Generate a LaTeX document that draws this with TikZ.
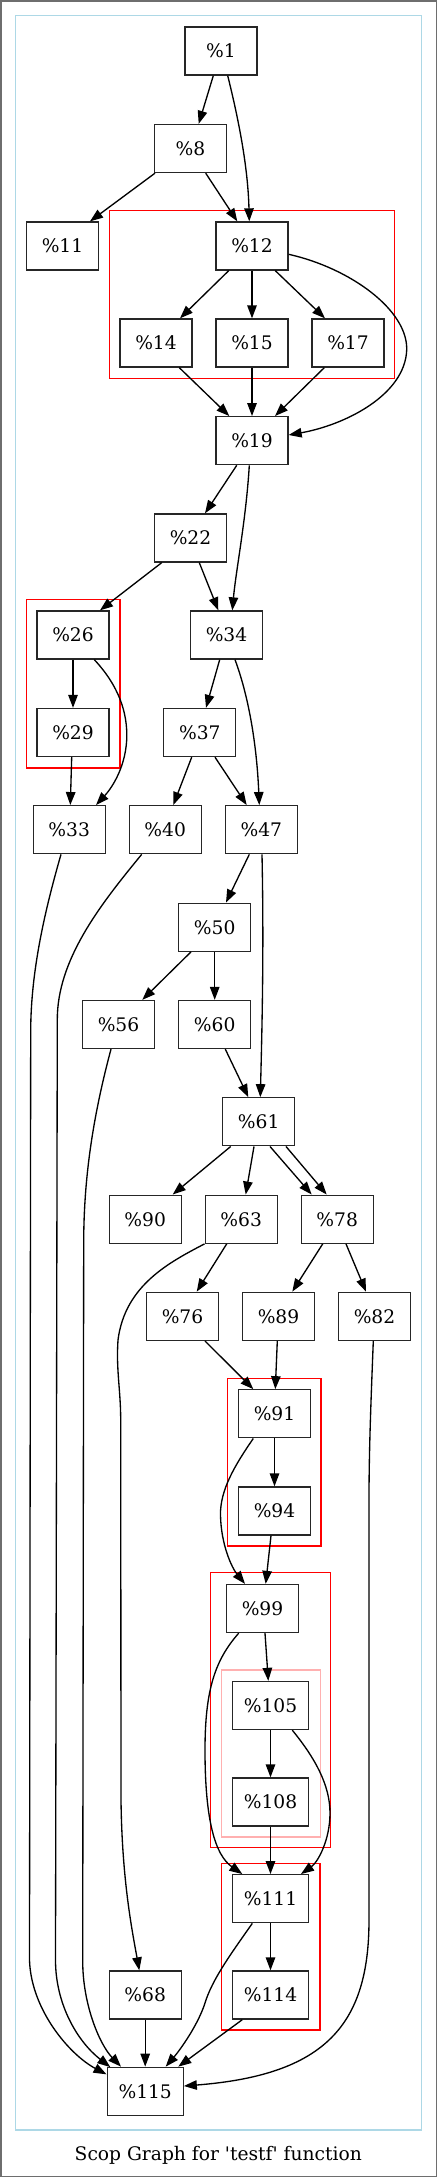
\documentclass[tikz,border=0pt]{standalone}
\usepackage{fontspec}
\setmainfont{DejaVu Serif}
\newfontfamily\plainserif{DejaVu Serif}
\usetikzlibrary{arrows.meta,calc}
\definecolor{clblue}{RGB}{173,216,230}
\definecolor{clpink}{RGB}{255,176,176}
\definecolor{frame}{RGB}{110,110,110}
\tikzset{
  bb/.style={draw=black!85, line width=1.33pt, minimum width=72pt, minimum height=48pt, inner sep=0pt, font=\fontsize{18.67}{22}\selectfont},
  bbw/.style={bb, minimum width=76pt},
  edge/.style={draw=black, line width=1.33pt, -{Triangle[length=13pt,width=9.5pt]}},
  redcl/.style={draw=red, line width=1.33pt},
  pinkcl/.style={draw=clpink, line width=1.33pt},
  bluecl/.style={draw=clblue, line width=1.33pt},
}
\begin{document}
\begin{tikzpicture}[x=1pt,y=-1pt]
\useasboundingbox (0,0) rectangle (437,2177);
\draw[frame, line width=1.5pt] (0.75,0.75) rectangle (436.25,2176.25);
% clusters
\draw[bluecl] (15.7,15.7) rectangle (421.7,2130);
\draw[redcl] (109.3,210.7) rectangle (394.7,378.7);
\draw[redcl] (26.3,599.7) rectangle (120,768);
\draw[redcl] (227.7,1378.3) rectangle (321,1546);
\draw[redcl] (210.3,1572.7) rectangle (330.7,1847.7);
\draw[pinkcl] (221.3,1670) rectangle (320.3,1837);
\draw[redcl] (221.3,1863.3) rectangle (320,2030);
% nodes
\node[bb] (n1) at (221,51) {\%1};
\node[bb] (n8) at (190.5,148.5) {\%8};
\node[bb] (n11) at (62.5,246) {\%11};
\node[bb] (n12) at (252,246) {\%12};
\node[bb] (n14) at (156,343) {\%14};
\node[bb] (n15) at (252,343) {\%15};
\node[bb] (n17) at (348,343) {\%17};
\node[bb] (n19) at (252,440.7) {\%19};
\node[bb] (n22) at (190.5,538) {\%22};
\node[bb] (n26) at (73,635) {\%26};
\node[bb] (n34) at (226.5,635) {\%34};
\node[bb] (n29) at (73,732.5) {\%29};
\node[bb] (n37) at (199.8,732.5) {\%37};
\node[bb] (n33) at (69.2,829.7) {\%33};
\node[bb] (n40) at (165.2,829.7) {\%40};
\node[bb] (n47) at (261.3,829.7) {\%47};
\node[bb] (n50) at (214.7,927.2) {\%50};
\node[bb] (n56) at (118.5,1024.5) {\%56};
\node[bb] (n60) at (214.7,1024.5) {\%60};
\node[bb] (n61) at (258.7,1121.8) {\%61};
\node[bb] (n90) at (145.2,1219.2) {\%90};
\node[bb] (n63) at (241.2,1219.2) {\%63};
\node[bb] (n78) at (337.2,1219.2) {\%78};
\node[bb] (n76) at (182.5,1316.3) {\%76};
\node[bb] (n89) at (278.5,1316.3) {\%89};
\node[bb] (n82) at (374.5,1316.3) {\%82};
\node[bb] (n91) at (274.5,1413.8) {\%91};
\node[bb] (n94) at (274.5,1511) {\%94};
\node[bb] (n99) at (262.5,1608.5) {\%99};
\node[bbw] (n105) at (270.5,1705.5) {\%105};
\node[bbw] (n108) at (270.5,1802) {\%108};
\node[bbw] (n111) at (270.5,1898.7) {\%111};
\node[bbw] (n114) at (270.5,1995) {\%114};
\node[bb] (n68) at (145.2,1995) {\%68};
\node[bbw] (n115) at (145.2,2091.3) {\%115};
\node[inner sep=0pt, font=\plainserif\fontsize{18.67}{22}\selectfont] (title) at (218.3,2155) {Scop Graph for 'testf' function};
% edges
\draw[edge] ($(n1.south)+(-7.7,0)$) -- ($(n8.north)+(8.2,0)$);
\draw[edge] ($(n1.south)+(6.7,0)$) .. controls (240,125) and (248,170) .. ($(n12.north)+(-2.7,0)$);
\draw[edge] ($(n8.south)+(-35.5,0)$) -- ($(n11.north)+(27.5,0)$);
\draw[edge] ($(n8.south)+(15.2,0)$) -- ($(n12.north)+(-14.7,0)$);
\draw[edge] ($(n12.south)+(-23.3,0)$) -- ($(n14.north)+(24,0)$);
\draw[edge] (n12.south) -- (n15.north);
\draw[edge] ($(n12.south)+(23.3,0)$) -- ($(n17.north)+(-23,0)$);
\draw[edge] ($(n12.east)+(0,8.3)$) .. controls (350,268) and (408,310) .. (406.7,350) .. controls (405,395) and (345,425) .. ($(n19.east)+(0,-5.7)$);
\draw[edge] ($(n14.south)+(23.3,0)$) -- ($(n19.north)+(-22.7,0)$);
\draw[edge] (n15.south) -- (n19.north);
\draw[edge] ($(n17.south)+(-23.7,0)$) -- ($(n19.north)+(23,0)$);
\draw[edge] ($(n19.south)+(-15.3,0)$) -- ($(n22.north)+(14.5,0)$);
\draw[edge] ($(n19.south)+(-2.7,0)$) .. controls (246,520) and (236,570) .. ($(n34.north)+(5.8,0)$);
\draw[edge] ($(n22.south)+(-28.8,0)$) -- ($(n26.north)+(27,0)$);
\draw[edge] ($(n22.south)+(8.8,0)$) -- ($(n34.north)+(-8.2,0)$);
\draw[edge] (n26.south) -- (n29.north);
\draw[edge] ($(n26.south)+(21.3,0)$) .. controls (118,685) and (128,712) .. (126.7,740) .. controls (125,770) and (110,790) .. ($(n33.north)+(26.8,0)$);
\draw[edge] ($(n29.south)+(-1.3,0)$) -- ($(n33.north)+(1.1,0)$);
\draw[edge] ($(n34.south)+(-6.8,0)$) -- ($(n37.north)+(6.2,0)$);
\draw[edge] ($(n34.south)+(8.5,0)$) .. controls (250,700) and (257,750) .. ($(n47.north)+(-2,0)$);
\draw[edge] ($(n37.south)+(-8.1,0)$) -- ($(n40.north)+(8.1,0)$);
\draw[edge] ($(n37.south)+(15.2,0)$) -- ($(n47.north)+(-14.6,0)$);
\draw[edge] ($(n47.south)+(-12,0)$) -- ($(n50.north)+(11.3,0)$);
\draw[edge] ($(n47.south)+(0.7,0)$) .. controls (264,950) and (262,1030) .. ($(n61.north)+(1.6,0)$);
\draw[edge] ($(n50.south)+(-23.7,0)$) -- ($(n56.north)+(23.8,0)$);
\draw[edge] (n50.south) -- (n60.north);
\draw[edge] ($(n60.south)+(10.6,0)$) -- ($(n61.north)+(-10.4,0)$);
\draw[edge] ($(n61.south)+(-28,0)$) -- ($(n90.north)+(27.5,0)$);
\draw[edge] ($(n61.south)+(-4.7,0)$) -- ($(n63.north)+(4.5,0)$);
\draw[edge] ($(n61.south)+(11.3,0)$) -- ($(n78.north)+(-25.5,0)$);
\draw[edge] ($(n61.south)+(27.3,0)$) -- ($(n78.north)+(-10.5,0)$);
\draw[edge] ($(n63.south)+(-14.5,0)$) -- ($(n76.north)+(14.2,0)$);
\draw[edge] ($(n78.south)+(-14.5,0)$) -- ($(n89.north)+(13.8,0)$);
\draw[edge] ($(n78.south)+(8.8,0)$) -- ($(n82.north)+(-8.5,0)$);
\draw[edge] ($(n76.south)+(22.5,0)$) -- ($(n91.north)+(-21.2,0)$);
\draw[edge] ($(n89.south)+(-1.2,0)$) -- ($(n91.north)+(0.8,0)$);
\draw[edge] (n91.south) -- (n94.north);
\draw[edge] ($(n91.south)+(-21.2,0)$) .. controls (235,1465) and (220,1490) .. (220.5,1515) .. controls (221,1545) and (232,1568) .. ($(n99.north)+(-17.5,0)$);
\draw[edge] ($(n94.south)+(-3.5,0)$) -- ($(n99.north)+(3.2,0)$);
\draw[edge] ($(n99.south)+(2.5,0)$) -- ($(n105.north)+(-2.2,0)$);
\draw[edge] ($(n99.south)+(-23.8,0)$) .. controls (215,1660) and (205,1690) .. (205,1750) .. controls (205,1820) and (215,1855) .. ($(n111.north)+(-28.2,0)$);
\draw[edge] (n105.south) -- (n108.north);
\draw[edge] ($(n105.south)+(21.8,0)$) .. controls (315,1758) and (330,1785) .. (330,1813) .. controls (330,1840) and (318,1862) .. ($(n111.north)+(30.5,0)$);
\draw[edge] (n108.south) -- (n111.north);
\draw[edge] (n111.south) -- (n114.north);
\draw[edge] ($(n111.south)+(-18.2,0)$) .. controls (230,1955) and (212,1980) .. (205,2003) .. controls (198,2025) and (180,2050) .. ($(n115.north)+(20.5,0)$);
\draw[edge] ($(n114.south)+(-28.2,0)$) -- ($(n115.north)+(33.1,0)$);
\draw[edge] (n68.south) -- (n115.north);
\draw[edge] ($(n33.south)+(-8.2,0)$) .. controls (45,910) and (31,970) .. (30.7,1030) -- (29.5,1960) .. controls (31,2010) and (70,2055) .. ($(n115.north west)+(0,7.7)$);
\draw[edge] ($(n40.south)+(-23.5,0)$) .. controls (100,905) and (57,960) .. (57.3,1020) -- (55.5,1960) .. controls (55.5,2005) and (78,2042) .. ($(n115.north west)+(3.8,0.5)$);
\draw[edge] ($(n56.south)+(-7.5,0)$) .. controls (92,1120) and (84,1180) .. (83.7,1240) -- (82.7,1960) .. controls (82.5,2005) and (100,2045) .. ($(n115.north)+(-24.2,0)$);
\draw[edge] (n63.south west) .. controls (170,1262) and (125,1285) .. (118,1340) .. controls (116,1370) and (120.7,1390) .. (120.7,1420) -- (121,1800) .. controls (122,1880) and (132,1930) .. ($(n68.north)+(-5.9,0)$);
\draw[edge] ($(n82.south)+(-1.2,0)$) .. controls (371,1400) and (369,1450) .. (369,1500) -- (369,1920) .. controls (369,2025) and (325,2075) .. ($(n115.east)+(0,-5.3)$);
\end{tikzpicture}
\end{document}
